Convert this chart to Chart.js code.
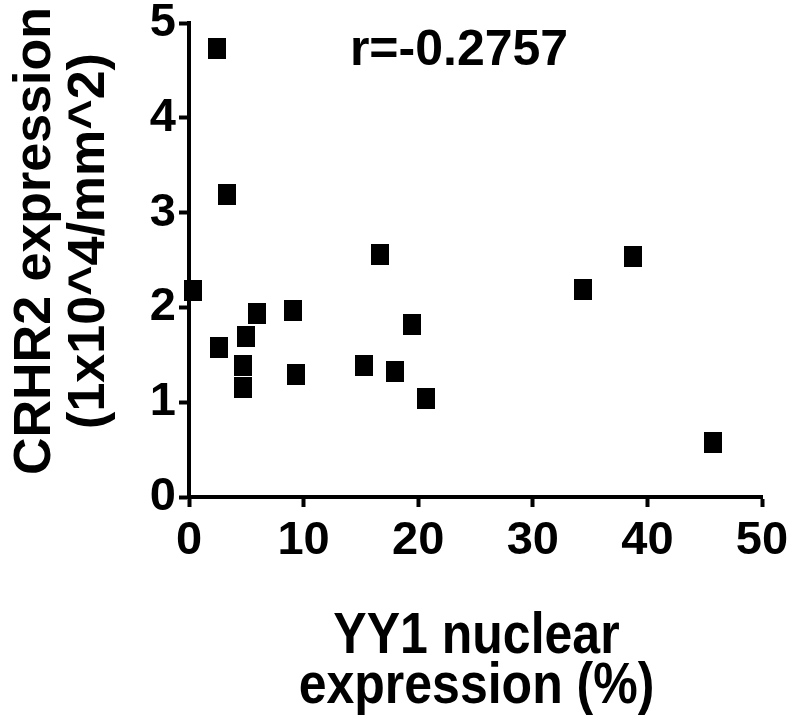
<!DOCTYPE html>
<html>
<head>
<meta charset="utf-8">
<title>CRHR2 vs YY1</title>
<script src="https://cdn.jsdelivr.net/npm/chart.js@4/dist/chart.umd.min.js"></script>
<style>
  html, body { margin: 0; padding: 0; background: #fff; }
  #wrap { width: 787px; height: 726px; position: relative; }
</style>
</head>
<body>
<div id="wrap"><canvas id="chart"></canvas></div>
<script>
// ── DATA ───────────────────────────────────────
const yy1Nuclear = [0.35, 2.4, 3.3, 2.6, 4.7, 4.7, 5.0, 5.9, 9.1, 9.3, 15.3, 16.7, 18.0, 19.5, 20.7, 34.4, 38.7, 45.7];
const crhr2Expr  = [2.18, 4.73, 3.19, 1.58, 1.39, 1.16, 1.69, 1.94, 1.97, 1.29, 1.39, 2.56, 1.32, 1.82, 1.04, 2.19, 2.54, 0.58];
const xTicks = [0, 10, 20, 30, 40, 50];
const yTicks = [0, 1, 2, 3, 4, 5];
const xTitle = ['YY1 nuclear', 'expression (%)'];
const yTitle = ['CRHR2 expression', '(1x10^4/mm^2)'];
const rLabel = 'r=-0.2757';

const FONT = '"Liberation Sans", Arial, Helvetica, sans-serif';

// square marker, slightly taller than wide like the original
const marker = document.createElement('canvas');
marker.width = 18; marker.height = 21;
const mctx = marker.getContext('2d');
mctx.fillStyle = '#000';
mctx.fillRect(0, 0, 18, 21);

// ── TITLES + r VALUE ──────────────────────────
const textPlugin = {
  id: 'texts',
  afterDraw(chart) {
    const { ctx, chartArea } = chart;
    ctx.save();
    ctx.fillStyle = '#000';
    ctx.textAlign = 'center';
    ctx.textBaseline = 'alphabetic';

    // r annotation
    ctx.font = 'bold 50px ' + FONT;
    ctx.fillText(rLabel, 459, 65);

    // x title, a bit taller than wide like the source figure
    const cx = (chartArea.left + chartArea.right) / 2 + 1;
    [653, 703].forEach((by, i) => {
      ctx.save();
      ctx.translate(cx, by);
      ctx.scale(1, 1.15);
      ctx.fillText(xTitle[i], 0, 0);
      ctx.restore();
    });

    // y title (rotated)
    ctx.font = 'bold 52px ' + FONT;
    [50, 104].forEach((bx, i) => {
      ctx.save();
      ctx.translate(bx, 241);
      ctx.rotate(-Math.PI / 2);
      ctx.fillText(yTitle[i], 0, 0);
      ctx.restore();
    });
    ctx.restore();
  }
};

// ── CHART ─────────────────────────────────────
const axisCommon = {
  type: 'linear',
  grid: { drawOnChartArea: false, drawTicks: true, tickLength: 10, tickWidth: 4, tickColor: '#000' },
  border: { display: true, width: 4, color: '#000' },
};
const tickFont = { family: FONT, size: 47, weight: 'bold' };

new Chart(document.getElementById('chart').getContext('2d'), {
  type: 'scatter',
  data: {
    datasets: [{
      data: yy1Nuclear.map((x, i) => ({ x, y: crhr2Expr[i] })),
      pointStyle: marker,
      backgroundColor: '#000',
      borderColor: '#000',
      clip: false
    }]
  },
  options: {
    responsive: true,
    maintainAspectRatio: false,
    animation: false,
    events: [],
    layout: { padding: { top: 23, right: 25, left: 0, bottom: 0 } },
    plugins: { legend: { display: false }, tooltip: { enabled: false } },
    scales: {
      x: {
        ...axisCommon,
        position: 'bottom',
        min: 0, max: 50,
        afterBuildTicks: s => { s.ticks = xTicks.map(v => ({ value: v })); },
        ticks: { color: '#000', font: tickFont, padding: 6, maxRotation: 0, autoSkip: false },
        afterFit: s => { s.height = 229; s.paddingLeft = 0; s.paddingRight = 0; }
      },
      y: {
        ...axisCommon,
        position: 'left',
        min: 0, max: 5,
        afterBuildTicks: s => { s.ticks = yTicks.map(v => ({ value: v })); },
        ticks: { color: '#000', font: tickFont, padding: 3, autoSkip: false },
        afterFit: s => { s.width = 189; s.paddingTop = 0; s.paddingBottom = 0; }
      }
    }
  },
  plugins: [textPlugin]
});
</script>
</body>
</html>
